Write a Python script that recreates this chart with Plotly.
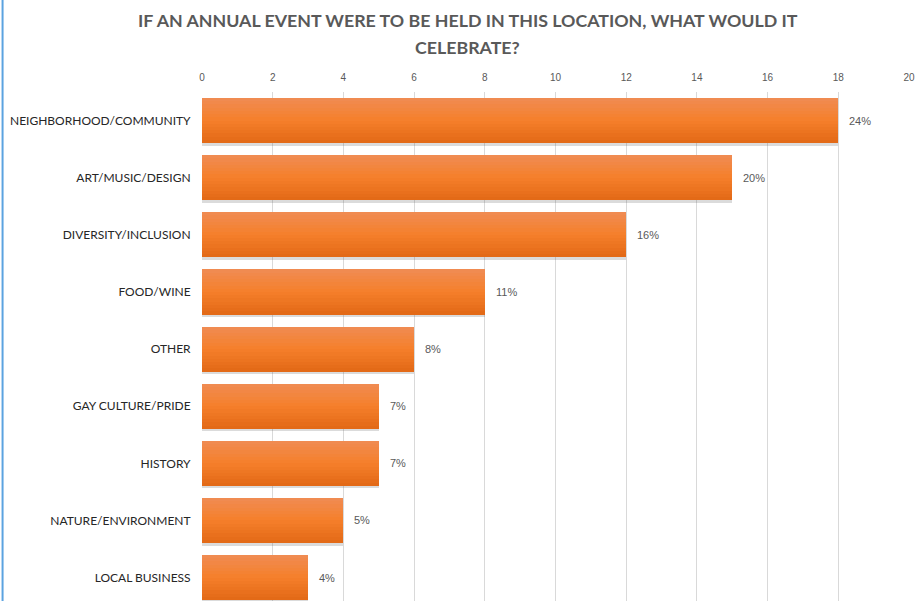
import plotly.graph_objects as go

# Survey responses: counts per category and the share label shown beside each bar
categories = [
    "NEIGHBORHOOD/COMMUNITY",
    "ART/MUSIC/DESIGN",
    "DIVERSITY/INCLUSION",
    "FOOD/WINE",
    "OTHER",
    "GAY CULTURE/PRIDE",
    "HISTORY",
    "NATURE/ENVIRONMENT",
    "LOCAL BUSINESS",
]
counts = [18, 15, 12, 8, 6, 5, 5, 4, 3]
share_labels = ["24%", "20%", "16%", "11%", "8%", "7%", "7%", "5%", "4%"]
x_ticks = [0, 2, 4, 6, 8, 10, 12, 14, 16, 18, 20]

title_lines = [
    "IF AN ANNUAL EVENT WERE TO BE HELD IN THIS LOCATION, WHAT WOULD IT",
    "CELEBRATE?",
]

BAR_W = 0.79
N_BANDS = 14
TOP_RGB = (240, 140, 84)
MID_RGB = (245, 127, 42)
BOT_RGB = (226, 104, 22)

PLOT_TOP = 92
FIG_H = 601


def band_color(t):
    # vertical gradient: light top -> saturated middle -> darker bottom
    if t < 0.5:
        a, b, u = TOP_RGB, MID_RGB, t / 0.5
    else:
        a, b, u = MID_RGB, BOT_RGB, (t - 0.5) / 0.5
    r, g, bl = (round(a[i] + (b[i] - a[i]) * u) for i in range(3))
    return f"rgb({r},{g},{bl})"


fig = go.Figure()

# soft drop shadow under each bar
fig.add_trace(go.Bar(
    x=counts, y=categories, orientation="h",
    width=BAR_W, offset=-BAR_W / 2 + 0.045,
    marker=dict(color="rgba(90,90,90,0.22)", line=dict(width=0)),
    hoverinfo="skip", showlegend=False,
))

# bars drawn as stacked horizontal bands to give the gradient fill
band_w = BAR_W / N_BANDS
for i in range(N_BANDS):
    fig.add_trace(go.Bar(
        x=counts, y=categories, orientation="h",
        width=band_w * 1.02, offset=-BAR_W / 2 + i * band_w,
        marker=dict(color=band_color((i + 0.5) / N_BANDS), line=dict(width=0)),
        hoverinfo="skip", showlegend=False,
    ))

# share labels at the end of each bar
for cat, val, lab in zip(categories, counts, share_labels):
    fig.add_annotation(
        x=val, y=cat, text=lab, showarrow=False,
        xanchor="left", xshift=9,
        font=dict(family="Liberation Sans, Arial", size=11, color="#595959"),
    )

# two-line chart title
plot_h = FIG_H - PLOT_TOP
for line, py in zip(title_lines, [20, 47]):
    fig.add_annotation(
        x=0.376, xref="paper", y=(FIG_H - py) / plot_h, yref="paper",
        text=f"<b>{line}</b>", showarrow=False,
        xanchor="center", yanchor="middle",
        font=dict(family="Lato, Open Sans", size=17.8, color="#595959"),
    )

fig.update_layout(
    width=915, height=FIG_H,
    margin=dict(l=202, r=4, t=PLOT_TOP, b=0),
    paper_bgcolor="white", plot_bgcolor="white",
    barmode="overlay", bargap=0,
    xaxis=dict(
        side="top", range=[0, 20], tickvals=x_ticks,
        showgrid=True, gridcolor="#D9D9D9", gridwidth=1,
        zeroline=False, showline=False,
        ticks="outside", ticklen=6, tickcolor="rgba(0,0,0,0)",
        ticklabeloverflow="allow",
        tickfont=dict(family="Liberation Sans, Arial", size=10, color="#595959"),
        fixedrange=True,
    ),
    yaxis=dict(
        type="category", categoryorder="array", categoryarray=categories,
        range=[8.41, -0.5],
        showgrid=False, zeroline=False, showline=False,
        ticks="outside", ticklen=8, tickcolor="rgba(0,0,0,0)",
        tickfont=dict(family="Lato, Open Sans", size=12, color="#262626"),
        fixedrange=True,
    ),
    shapes=[dict(
        type="line", xref="paper", yref="paper",
        x0=-200 / 709, x1=-200 / 709, y0=-0.2, y1=1.2,
        line=dict(color="#5BA3E0", width=2),
    )],
)

fig.write_html("out.html")
